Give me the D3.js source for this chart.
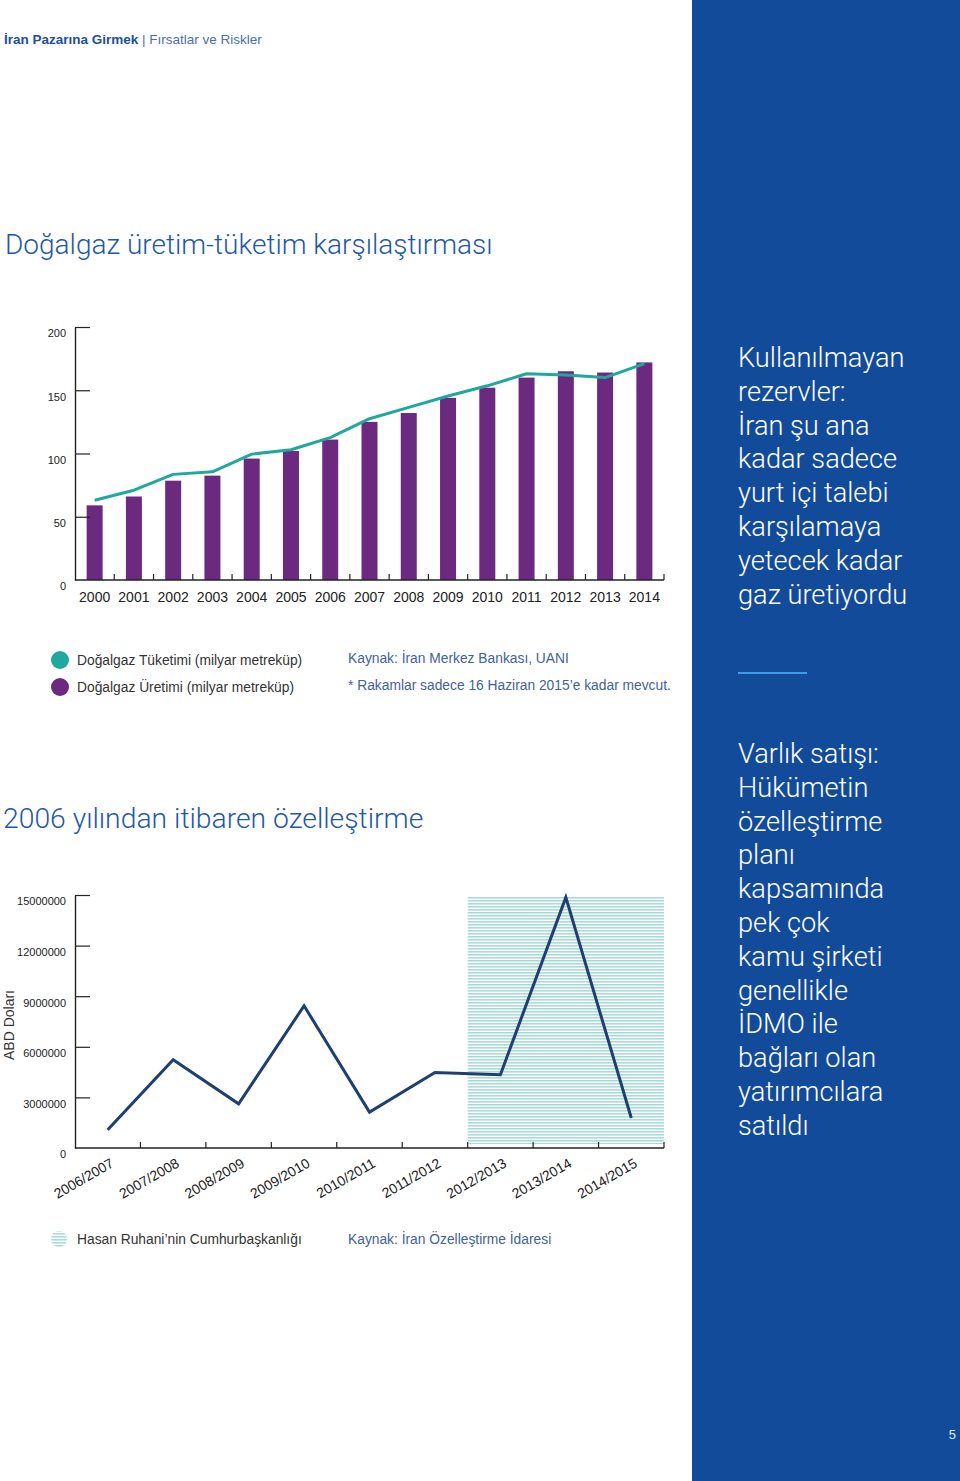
<!DOCTYPE html>
<html>
<head>
<meta charset="utf-8">
<script src="https://cdn.jsdelivr.net/npm/d3@7"></script>
<style>
  body { margin: 0; background: #fff; }
  svg { display: block; font-family: "Liberation Sans", Arial, sans-serif; }
</style>
</head>
<body>
<div id="page"></div>
<script>
// ---- data ----
var years = ['2000','2001','2002','2003','2004','2005','2006','2007','2008','2009','2010','2011','2012','2013','2014'];
var production = [59, 66, 78.5, 82.5, 96, 102, 111, 125, 132, 144, 152, 160, 165, 164, 172];
var consumption = [63, 71, 83.5, 85.5, 99.5, 103, 112.5, 127.5, 136.5, 145.5, 153.5, 163, 162, 160, 171];
var gasTicks = [0, 50, 100, 150, 200];

var periods = ['2006/2007','2007/2008','2008/2009','2009/2010','2010/2011','2011/2012','2012/2013','2013/2014','2014/2015'];
var sales = [1080000, 5230000, 2620000, 8430000, 2130000, 4480000, 4340000, 14860000, 1780000];
var salesTicks = [0, 3000000, 6000000, 9000000, 12000000, 15000000];
var rouhaniPeriods = ['2012/2013','2013/2014','2014/2015'];

var panelText1 = ['Kullanılmayan','rezervler:','İran şu ana','kadar sadece','yurt içi talebi','karşılamaya','yetecek kadar','gaz üretiyordu'];
var panelText2 = ['Varlık satışı:','Hükümetin','özelleştirme','planı','kapsamında','pek çok','kamu şirketi','genellikle','İDMO ile','bağları olan','yatırımcılara','satıldı'];

var W = 960, H = 1481;
var BLUE = '#134b9b', TITLE = '#1f58a8', TEAL = '#1fa89b', PURPLE = '#6b2a80', NAVY = '#1f3f73', SRC = '#42629a';

var svg = d3.select('#page').append('svg').attr('width', W).attr('height', H);

var defs = svg.append('defs');
var pat = defs.append('pattern').attr('id', 'hatch')
    .attr('patternUnits', 'userSpaceOnUse').attr('width', 4).attr('height', 3);
pat.append('rect').attr('width', 4).attr('height', 3).attr('fill', '#fff');
pat.append('rect').attr('width', 4).attr('height', 1.6).attr('fill', '#a9dbd6');

// right blue panel
svg.append('rect').attr('x', 692).attr('y', 0).attr('width', W - 692).attr('height', H).attr('fill', BLUE);

// header
var hdr = svg.append('text').attr('x', 4).attr('y', 44).attr('font-size', 13.5).attr('fill', '#1c4f9c');
hdr.append('tspan').attr('font-weight', 'bold').text('İran Pazarına Girmek');
hdr.append('tspan').attr('fill', '#4a6fae').text(' | Fırsatlar ve Riskler');

// ---------------- chart 1 ----------------
svg.append('text').attr('x', 5).attr('y', 254).attr('font-size', 28).attr('fill', TITLE)
    .attr('font-family', 'Roboto').attr('font-weight', 300)
    .text('Doğalgaz üretim-tüketim karşılaştırması');

var x1 = d3.scaleBand().domain(years).range([75, 664]).paddingInner(0).paddingOuter(0);
var y1 = d3.scaleLinear().domain([0, 200]).range([580, 327]);
var g1 = svg.append('g');

g1.selectAll('rect.bar').data(years).enter().append('rect')
    .attr('class', 'bar')
    .attr('x', function(d) { return x1(d) + x1.bandwidth() / 2 - 8; })
    .attr('y', function(d, i) { return y1(production[i]); })
    .attr('width', 16)
    .attr('height', function(d, i) { return y1(0) - y1(production[i]); })
    .attr('fill', PURPLE);

var line1 = d3.line()
    .x(function(d, i) { return x1(years[i]) + x1.bandwidth() / 2; })
    .y(function(d) { return y1(d); });
g1.append('path').datum(consumption).attr('d', line1)
    .attr('fill', 'none').attr('stroke', TEAL).attr('stroke-width', 3).attr('stroke-linejoin', 'round');

function leftAxis(g, scale, ticks, fmt) {
    var ax = g.append('g').attr('transform', 'translate(75,0)')
        .call(d3.axisLeft(scale).tickValues(ticks).tickFormat(fmt).tickSizeInner(-15).tickSizeOuter(0).tickPadding(9));
    ax.select('.domain').attr('stroke', '#222').attr('stroke-width', 1.4);
    ax.selectAll('.tick line').attr('stroke', '#222').attr('stroke-width', 1.2);
    ax.selectAll('.tick').filter(function(d) { return d === 0; }).select('line').remove();
    ax.selectAll('.tick text').attr('font-size', 11).attr('fill', '#222').attr('dy', '0.9em')
        .attr('font-family', 'Liberation Sans, Arial, sans-serif');
    return ax;
}
function bottomTicks(g, scale, y0) {
    var bounds = scale.domain().slice(1).map(function(d) { return scale(d); }).concat([scale.range()[1]]);
    g.append('line').attr('x1', scale.range()[0]).attr('x2', scale.range()[1])
        .attr('y1', y0).attr('y2', y0).attr('stroke', '#222').attr('stroke-width', 1.4);
    g.selectAll('line.bt').data(bounds).enter().append('line').attr('class', 'bt')
        .attr('x1', function(d) { return d; }).attr('x2', function(d) { return d; })
        .attr('y1', y0).attr('y2', y0 - 6).attr('stroke', '#222').attr('stroke-width', 1.2);
}

leftAxis(g1, y1, gasTicks, d3.format('d'));
bottomTicks(g1, x1, 580);
var xa1 = g1.append('g').attr('transform', 'translate(0,580)')
    .call(d3.axisBottom(x1).tickSize(0).tickPadding(12));
xa1.select('.domain').remove();
xa1.selectAll('.tick text').attr('font-size', 14).attr('fill', '#222').attr('dy', '0.71em')
    .attr('font-family', 'Liberation Sans, Arial, sans-serif');

// legend 1
var leg1 = [{ c: TEAL, t: 'Doğalgaz Tüketimi (milyar metreküp)' }, { c: PURPLE, t: 'Doğalgaz Üretimi (milyar metreküp)' }];
var lg = svg.selectAll('g.leg1').data(leg1).enter().append('g').attr('class', 'leg1')
    .attr('transform', function(d, i) { return 'translate(0,' + (660 + i * 27) + ')'; });
lg.append('circle').attr('cx', 60).attr('cy', 0).attr('r', 9).attr('fill', function(d) { return d.c; });
lg.append('text').attr('x', 77).attr('y', 5).attr('font-size', 13.8).attr('fill', '#333').text(function(d) { return d.t; });
svg.append('text').attr('x', 348).attr('y', 663).attr('font-size', 13.8).attr('fill', SRC).text('Kaynak: İran Merkez Bankası, UANI');
svg.append('text').attr('x', 348).attr('y', 690).attr('font-size', 13.8).attr('fill', SRC).text('* Rakamlar sadece 16 Haziran 2015’e kadar mevcut.');

// ---------------- chart 2 ----------------
svg.append('text').attr('x', 3).attr('y', 828).attr('font-size', 28.3).attr('fill', TITLE)
    .attr('font-family', 'Roboto').attr('font-weight', 300)
    .text('2006 yılından itibaren özelleştirme');

var x2 = d3.scaleBand().domain(periods).range([75, 664]).paddingInner(0).paddingOuter(0);
var y2 = d3.scaleLinear().domain([0, 15000000]).range([1148, 895]);
var g2 = svg.append('g');

g2.append('rect')
    .attr('x', x2(rouhaniPeriods[0]))
    .attr('y', y2(15000000) + 2)
    .attr('width', x2(rouhaniPeriods[rouhaniPeriods.length - 1]) + x2.bandwidth() - x2(rouhaniPeriods[0]))
    .attr('height', y2(0) - y2(15000000) - 6)
    .attr('fill', 'url(#hatch)');

var line2 = d3.line()
    .x(function(d, i) { return x2(periods[i]) + x2.bandwidth() / 2; })
    .y(function(d) { return y2(d); });
g2.append('path').datum(sales).attr('d', line2)
    .attr('fill', 'none').attr('stroke', NAVY).attr('stroke-width', 3).attr('stroke-linejoin', 'miter');

leftAxis(g2, y2, salesTicks, d3.format('d'));
bottomTicks(g2, x2, 1148);
var xa2 = g2.append('g').attr('transform', 'translate(0,1148)')
    .call(d3.axisBottom(x2).tickSize(0));
xa2.select('.domain').remove();
xa2.selectAll('.tick text').attr('font-size', 14).attr('fill', '#222')
    .attr('font-family', 'Liberation Sans, Arial, sans-serif')
    .attr('text-anchor', 'end').attr('dy', 0).attr('y', 0)
    .attr('transform', 'translate(7,18) rotate(-30)');

svg.append('text').attr('transform', 'translate(14,1025) rotate(-90)')
    .attr('text-anchor', 'middle').attr('font-size', 14).attr('fill', '#333').text('ABD Doları');

// legend 2
svg.append('circle').attr('cx', 59).attr('cy', 1239).attr('r', 8).attr('fill', 'url(#hatch)');
svg.append('text').attr('x', 77).attr('y', 1244).attr('font-size', 13.8).attr('fill', '#333').text('Hasan Ruhani’nin Cumhurbaşkanlığı');
svg.append('text').attr('x', 348).attr('y', 1244).attr('font-size', 13.8).attr('fill', SRC).text('Kaynak: İran Özelleştirme İdaresi');

// ---------------- panel text ----------------
function panel(lines, y0) {
    svg.append('g').selectAll('text').data(lines).enter().append('text')
        .attr('x', 738).attr('y', function(d, i) { return y0 + i * 33.8; })
        .attr('font-size', 27.2).attr('fill', '#fff')
        .attr('font-family', 'Roboto').attr('font-weight', 300)
        .text(function(d) { return d; });
}
panel(panelText1, 367);
panel(panelText2, 763);
svg.append('line').attr('x1', 738).attr('x2', 807).attr('y1', 673).attr('y2', 673)
    .attr('stroke', '#3d9be9').attr('stroke-width', 2);

svg.append('text').attr('x', 956).attr('y', 1439).attr('text-anchor', 'end')
    .attr('font-size', 13).attr('fill', '#dfe8f5').text('5');
</script>
</body>
</html>
